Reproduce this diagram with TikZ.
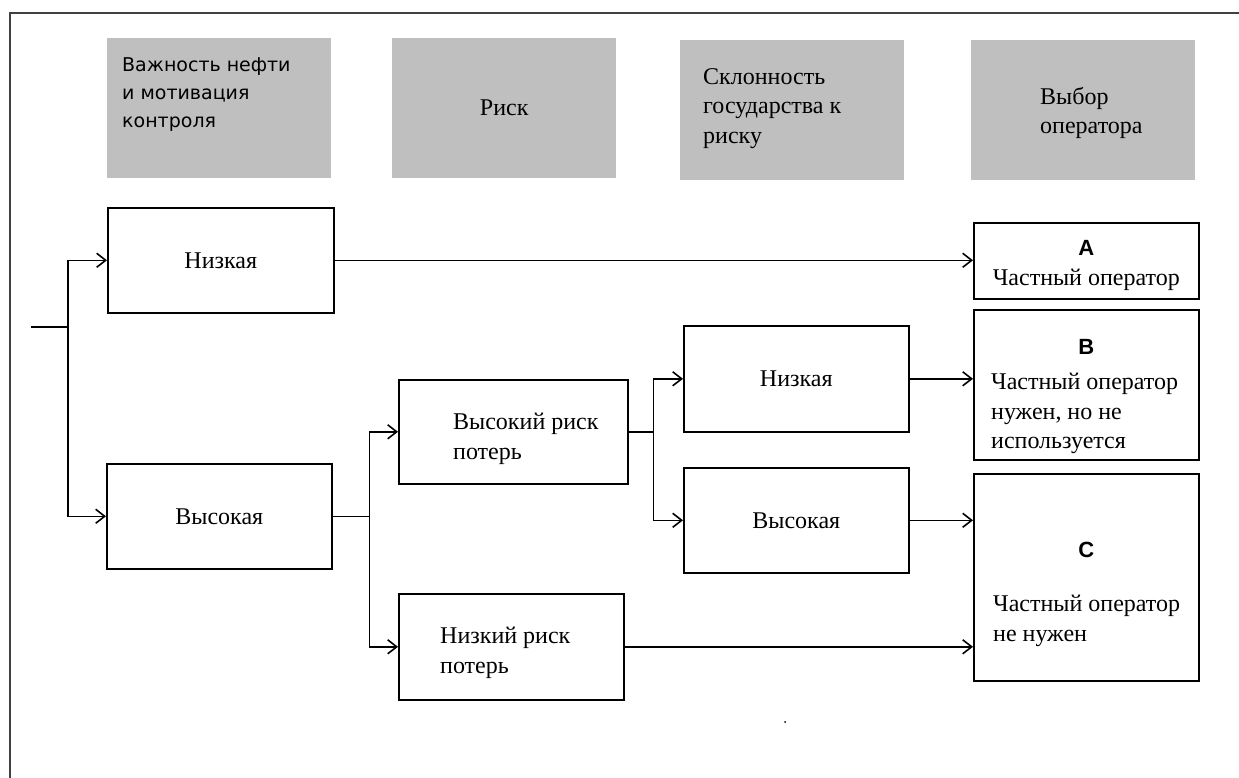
\documentclass[tikz,border=0pt]{standalone}
\usepackage{fontspec}
\setmainfont{Liberation Serif}
\newfontfamily\headsans{DejaVu Sans}
\newfontfamily\lettersans{Liberation Sans}
\usetikzlibrary{arrows.meta,positioning}
\definecolor{hdrgray}{RGB}{191,191,191}
\definecolor{framegray}{RGB}{64,64,64}

\begin{document}
\begin{tikzpicture}[x=1pt, y=-1pt,
  hdr/.style={rectangle, fill=hdrgray, minimum width=224pt, minimum height=140pt, anchor=north west, inner sep=0pt, font=\fontsize{24}{29.5}\selectfont},
  box/.style={rectangle, draw, line width=1.6pt, minimum width=225pt, minimum height=105pt, anchor=north west, inner sep=0pt, font=\fontsize{24}{29.5}\selectfont},
  txt/.style={inner sep=0pt, align=left, font=\fontsize{24}{29.5}\selectfont},
  lettr/.style={inner sep=0pt, font=\lettersans\bfseries\fontsize{22}{26}\selectfont},
  conn/.style={line width=1.6pt},
  arr/.style={-{Straight Barb[length=9pt,width=14pt]}, line width=1.6pt}
]
\useasboundingbox (0,0) rectangle (1239,778);
\draw[framegray, line width=2pt] (10,778) -- (10,13) -- (1239,13);

% column headers
\node[hdr] (h1) at (107,38) {};
\node[hdr] (h2) at (392,38) {Риск};
\node[hdr] (h3) at (680,40) {};
\node[hdr] (h4) at (971,40) {};
\node[txt, font=\headsans\fontsize{19}{28}\selectfont, below right=19pt and 15pt of h1.north west] (h1t) {Важность нефти\\и мотивация\\контроля};
\node[txt, below right=28pt and 23pt of h3.north west] (h3t) {Склонность\\государства к\\риску};
\node[txt, below right=47pt and 69pt of h4.north west] (h4t) {Выбор\\оператора};

% decision boxes
\node[box, minimum width=226pt] (lowimp) at (107,207) {Низкая};
\node[box] (highimp) at (106,463) {Высокая};
\node[box, minimum width=229pt, minimum height=104pt] (hirisk) at (398,379) {};
\node[box, minimum height=106pt] (lorisk) at (398,593) {};
\node[txt, below right=34pt and 55pt of hirisk.north west] (hiriskt) {Высокий риск\\потерь};
\node[txt, below right=34pt and 42pt of lorisk.north west] (loriskt) {Низкий риск\\потерь};
\node[box, minimum height=106pt] (lowpref) at (683,325) {Низкая};
\node[box] (highpref) at (683,467) {Высокая};

% outcomes
\node[box, minimum height=76pt] (resA) at (973,222) {};
\node[box, minimum height=150pt] (resB) at (973,309) {};
\node[box, minimum height=207pt] (resC) at (973,473) {};
\node[lettr] (letA) at ([yshift=-26pt]resA.north) {A};
\node[txt] (bodyA) at ([yshift=-58pt]resA.north) {Частный оператор};
\node[lettr] (letB) at ([yshift=-38pt]resB.north) {B};
\node[txt, below right=64pt and 18pt of resB.north west] (bodyB) {Частный оператор\\нужен, но не\\используется};
\node[lettr] (letC) at ([yshift=-77pt]resC.north) {C};
\node[txt, below right=122pt and 20pt of resC.north west] (bodyC) {Частный оператор\\не нужен};

% connectors
\coordinate (inp) at (31,327);
\coordinate (j1) at (68,327);
\coordinate (j2) at ([xshift=37pt]highimp.east);
\coordinate (j3) at ([xshift=25pt]hirisk.east);
\draw[conn] (inp) -- (j1);
\draw[arr] (j1) |- (lowimp.west);
\draw[arr] (j1) |- (highimp.west);
\draw[conn] (highimp.east) -- (j2);
\draw[arr] (j2) |- (hirisk.west);
\draw[arr] (j2) |- (lorisk.west);
\draw[conn] (hirisk.east) -- (j3);
\draw[arr] (j3) |- (lowpref.west);
\draw[arr] (j3) |- (highpref.west);
\draw[arr] (lowimp.east) -- (lowimp.east -| resA.west);
\draw[arr] (lowpref.east) -- (lowpref.east -| resB.west);
\draw[arr] (highpref.east) -- (highpref.east -| resC.west);
\draw[arr] (lorisk.east) -- (lorisk.east -| resC.west);

\fill (785,722) circle (1pt);
\end{tikzpicture}
\end{document}
